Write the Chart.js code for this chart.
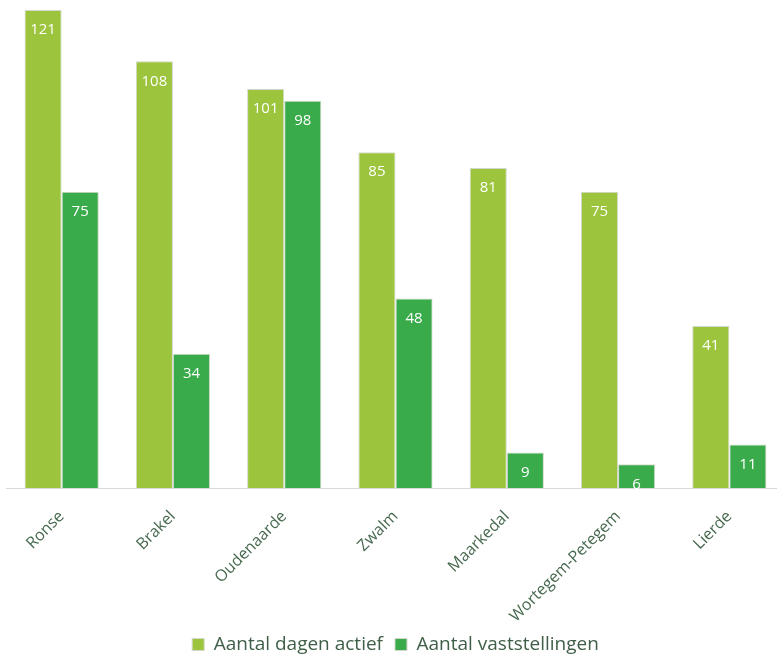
<!DOCTYPE html>
<html>
<head>
<meta charset="utf-8">
<script src="https://cdn.jsdelivr.net/npm/chart.js@4"></script>
<style>
  html, body { margin: 0; padding: 0; background: #fff; overflow: hidden; }
  .wrap { width: 785px; height: 656px; position: relative; }
</style>
</head>
<body>
<div class="wrap"><canvas id="chart"></canvas></div>
<script>
const categories = ["Ronse", "Brakel", "Oudenaarde", "Zwalm", "Maarkedal", "Wortegem-Petegem", "Lierde"];
const dagenActief = [121, 108, 101, 85, 81, 75, 41];
const vaststellingen = [75, 34, 98, 48, 9, 6, 11];
const seriesLabels = ["Aantal dagen actief", "Aantal vaststellingen"];

const LIGHT = "#9cc43c";
const DARK = "#3aab4a";
const FONT = "'Open Sans', 'Noto Sans', sans-serif";

// white value labels just inside the top of each bar
const valueLabels = {
  id: "valueLabels",
  afterDatasetsDraw(chart) {
    const ctx = chart.ctx;
    ctx.save();
    ctx.fillStyle = "#ffffff";
    ctx.font = "500 15px " + FONT;
    ctx.textAlign = "center";
    ctx.textBaseline = "middle";
    chart.data.datasets.forEach((ds, di) => {
      chart.getDatasetMeta(di).data.forEach((bar, i) => {
        ctx.fillText(String(ds.data[i]), bar.x, bar.y + 20);
      });
    });
    ctx.restore();
  }
};

new Chart(document.getElementById("chart"), {
  type: "bar",
  data: {
    labels: categories,
    datasets: [
      {
        label: seriesLabels[0],
        data: dagenActief,
        backgroundColor: LIGHT,
        borderColor: "#d4d8cc",
        borderWidth: 1,
        borderSkipped: "bottom",
        categoryPercentage: 0.667,
        barPercentage: 1
      },
      {
        label: seriesLabels[1],
        data: vaststellingen,
        backgroundColor: DARK,
        borderColor: "#d4d8cc",
        borderWidth: 1,
        borderSkipped: "bottom",
        categoryPercentage: 0.667,
        barPercentage: 1
      }
    ]
  },
  options: {
    responsive: true,
    maintainAspectRatio: false,
    animation: false,
    layout: { padding: { top: 10, left: 6, right: 0, bottom: -8 } },
    plugins: {
      tooltip: { enabled: false },
      legend: {
        position: "bottom",
        labels: {
          boxWidth: 12,
          boxHeight: 12,
          padding: 12,
          color: "#3f5f48",
          font: { family: FONT, size: 19 }
        }
      }
    },
    scales: {
      x: {
        grid: { display: false },
        border: { display: true, color: "#d9d9d9", width: 1 },
        ticks: {
          color: "#47694f",
          font: { family: FONT, size: 16 },
          minRotation: 45,
          maxRotation: 45,
          padding: 11
        },
        afterFit(scale) {
          scale.height -= 14;
        }
      },
      y: {
        display: false,
        min: 0,
        max: 121
      }
    }
  },
  plugins: [valueLabels]
});
</script>
</body>
</html>
